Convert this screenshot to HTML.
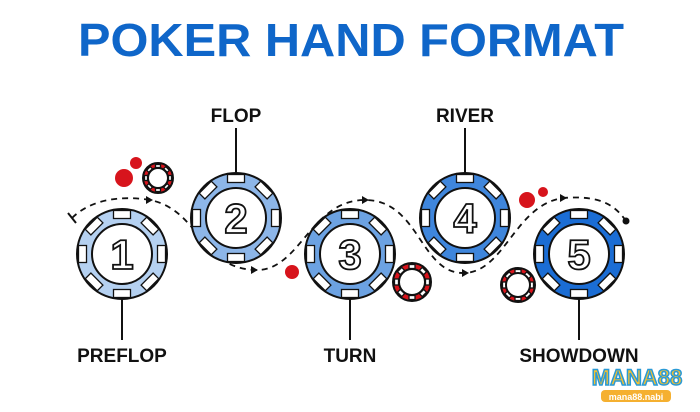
<!DOCTYPE html>
<html><head><meta charset="utf-8"><style>
html,body{margin:0;padding:0;background:#fff;width:700px;height:412px;overflow:hidden}
svg{display:block}
text{font-family:"Liberation Sans",sans-serif;font-weight:bold}
</style></head><body>
<svg id="s" width="700" height="412" viewBox="0 0 700 412" xmlns="http://www.w3.org/2000/svg">
<rect width="700" height="412" fill="#fff"/>
<text x="351" y="56" font-size="46" fill="#0f66c9" text-anchor="middle" textLength="546" lengthAdjust="spacingAndGlyphs">POKER HAND FORMAT</text>
<path d="M72,218 C90,200 120,195 150,200 C200,210 200,268 255,270 C300,272 310,200 365,200 C420,200 420,275 465,273 C505,271 515,205 563,198 C600,195 615,205 626,221" fill="none" stroke="#111" stroke-width="1.8" stroke-dasharray="6,5"/>
<line x1="68" y1="213" x2="76" y2="223" stroke="#111" stroke-width="2"/>
<circle cx="626" cy="221" r="3.5" fill="#111"/>
<g fill="#111">
<polygon points="146,196 146,204 153,200"/>
<polygon points="251,266 251,274 258,270"/>
<polygon points="362,196 362,204 369,200"/>
<polygon points="462,269 462,277 469,273"/>
<polygon points="560,194 560,202 567,198"/>
</g>
<g stroke="#111" stroke-width="2">
<line x1="236" y1="128" x2="236" y2="173"/>
<line x1="465" y1="128" x2="465" y2="173"/>
<line x1="122" y1="299" x2="122" y2="340"/>
<line x1="350" y1="299" x2="350" y2="340"/>
<line x1="579" y1="299" x2="579" y2="340"/>
</g>
<g font-size="19" fill="#111" text-anchor="middle">
<text x="236" y="122">FLOP</text>
<text x="465" y="122">RIVER</text>
<text x="122" y="362">PREFLOP</text>
<text x="350" y="362">TURN</text>
<text x="579" y="362">SHOWDOWN</text>
</g>
<g fill="#d7141c">
<circle cx="136" cy="163" r="6"/>
<circle cx="124" cy="178" r="9"/>
<circle cx="292" cy="272" r="7"/>
<circle cx="527" cy="200" r="8"/>
<circle cx="543" cy="192" r="5"/>
</g>
<g id="chips"></g>
<text x="637" y="385" font-size="22" fill="#f5c030" stroke="#2a9ad6" stroke-width="1.5" text-anchor="middle">MANA88</text>
<rect x="601" y="390" width="70" height="12" rx="4" fill="#f5b030"/>
<text x="636" y="400" font-size="9" fill="#fff" text-anchor="middle">mana88.nabi</text>
</svg>
<script>
const g=document.getElementById('chips');const NS='http://www.w3.org/2000/svg';
function el(t,a){const e=document.createElementNS(NS,t);for(const k in a)e.setAttribute(k,a[k]);g.appendChild(e);return e;}
function chip(cx,cy,R,ri,col,n,num,nw,nh){
 el('circle',{cx,cy,r:R,fill:col,stroke:'#111','stroke-width':2});
 for(let i=0;i<n;i++){const a=i*360/n;
  el('rect',{x:cx-nw/2,y:cy-R+1.5,width:nw,height:nh,fill:'#fff',stroke:'#111','stroke-width':1.3,transform:`rotate(${a} ${cx} ${cy})`});}
 el('circle',{cx,cy,r:ri,fill:'#fff',stroke:'#111','stroke-width':2});
 if(num){const t=el('text',{x:cx,y:cy+15,'font-size':42,fill:'#fff',stroke:'#111','stroke-width':1.8,'text-anchor':'middle'});t.textContent=num;}
}
chip(122,254,45,30,'#b5d1f1',8,'1',17,8);
chip(236,218,45,30,'#8db6e8',8,'2',17,8);
chip(350,254,45,30,'#6ca2e2',8,'3',17,8);
chip(465,218,45,30,'#3f86dc',8,'4',17,8);
chip(579,254,45,30,'#1b6dd4',8,'5',17,8);
chip(158,178,15,10,'#d7141c',8,'',5,3);
chip(412,282,19,13,'#d7141c',8,'',6,4);
chip(518,285,17,12,'#d7141c',8,'',6,4);
</script>
</body></html>
